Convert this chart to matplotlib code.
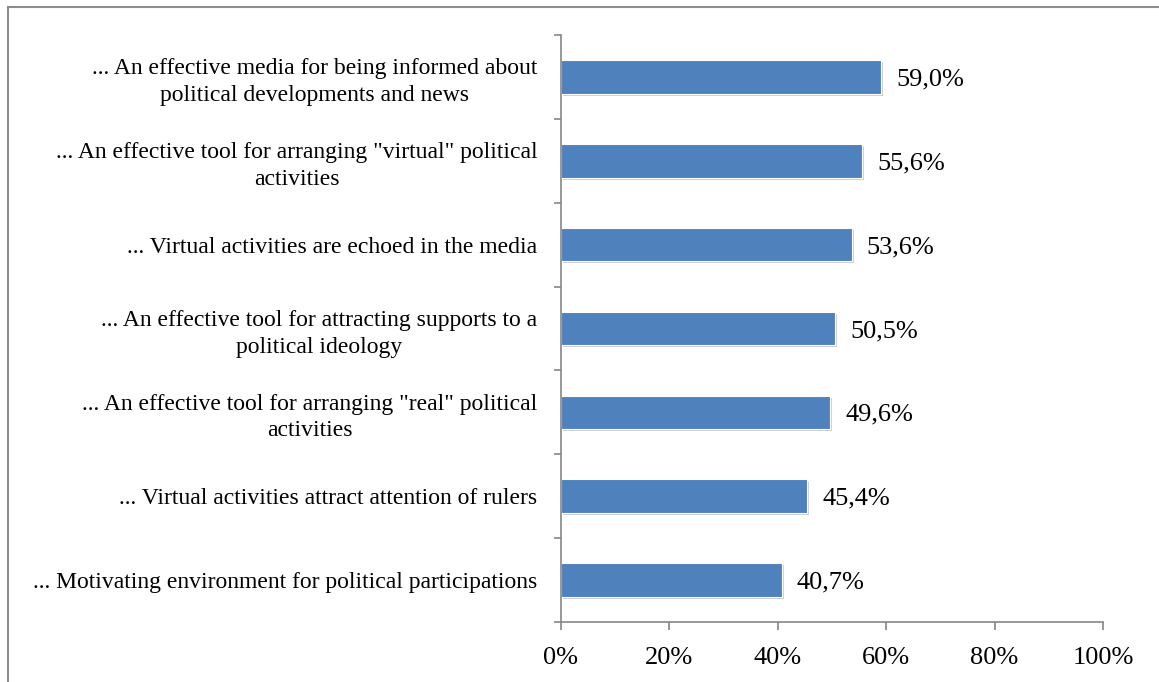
import matplotlib
matplotlib.use("Agg")
from matplotlib import pyplot as plt
from matplotlib import patheffects as pe
from matplotlib.lines import Line2D

categories = [
    '... An effective media for being informed about\npolitical developments and news',
    '... An effective tool for arranging "virtual" political\nactivities',
    '... Virtual activities are echoed in the media',
    '... An effective tool for attracting supports to a\npolitical ideology',
    '... An effective tool for arranging "real" political\nactivities',
    '... Virtual activities attract attention of rulers',
    '... Motivating environment for political participations',
]
values = [59.0, 55.6, 53.6, 50.5, 49.6, 45.4, 40.7]
value_labels = ["59,0%", "55,6%", "53,6%", "50,5%", "49,6%", "45,4%", "40,7%"]
xticks = [0, 20, 40, 60, 80, 100]

plt.rcParams['font.family'] = ['Liberation Serif', 'DejaVu Serif']

fig = plt.figure(figsize=(11.59, 6.82), dpi=100)
ax = fig.add_axes([561 / 1159, 60 / 682, 542 / 1159, 587 / 682])

n = len(values)
ypos = list(range(n - 1, -1, -1))
bars = ax.barh(ypos, values, height=0.4, color='#4F81BD', edgecolor='white', linewidth=0.8)
for b in bars:
    b.set_path_effects([pe.SimplePatchShadow(offset=(1.5, -1.5), shadow_rgbFace='#b0b0b0', alpha=0.6), pe.Normal()])

for y, v, lab in zip(ypos, values, value_labels):
    ax.annotate(lab, (v, y), xytext=(11, 0), textcoords='offset points',
                va='center_baseline', ha='left', fontsize=19)

ax.set_xlim(0, 100)
ax.set_ylim(-0.5, n - 0.5)
ax.set_xticks(xticks)
ax.set_xticklabels([f"{t}%" for t in xticks], fontsize=19)
ax.set_yticks(ypos)
ax.set_yticklabels(categories, fontsize=17, linespacing=1.35, multialignment='center')
ax.set_yticks([i - 0.5 for i in range(n + 1)], minor=True)
ax.tick_params(axis='y', which='major', length=0, pad=17)
ax.tick_params(axis='y', which='minor', length=5, color='#868686', width=1.2, direction='out')
ax.tick_params(axis='x', length=6, color='#868686', width=1.2, pad=12)

for s in ['top', 'right']:
    ax.spines[s].set_visible(False)
for s in ['left', 'bottom']:
    ax.spines[s].set_color('#868686')
    ax.spines[s].set_linewidth(1.2)

# outer frame (only top and left visible in the crop)
fig.add_artist(Line2D([8 / 1159, 1.0], [1 - 7 / 682, 1 - 7 / 682], transform=fig.transFigure, color='#8c8c8c', lw=1.5))
fig.add_artist(Line2D([8 / 1159, 8 / 1159], [0, 1 - 7 / 682], transform=fig.transFigure, color='#8c8c8c', lw=1.5))

fig.savefig("out.png", dpi=100)
